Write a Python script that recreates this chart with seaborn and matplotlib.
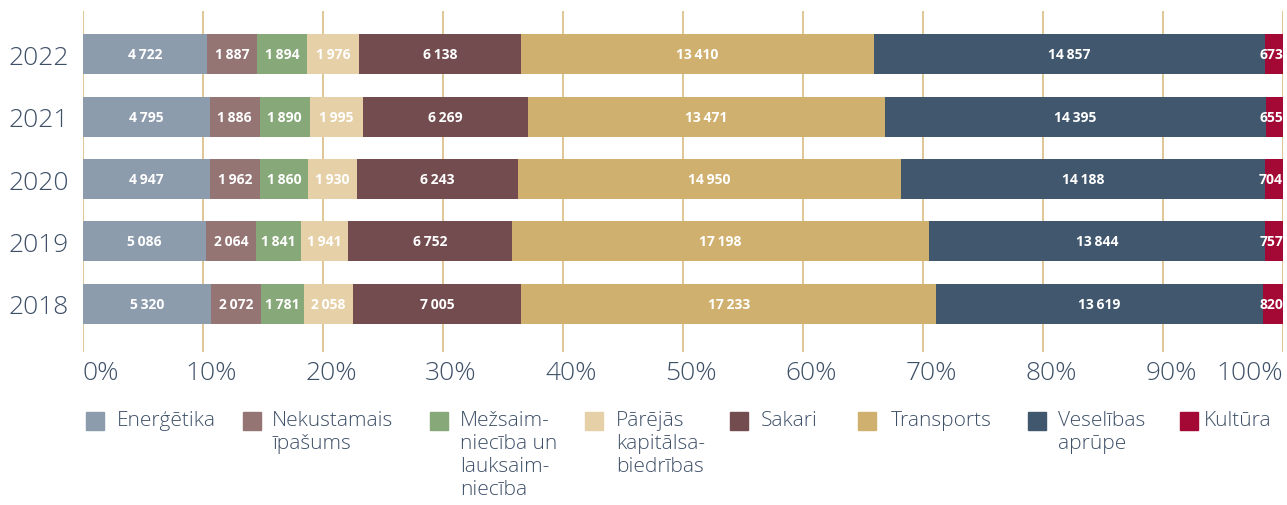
import numpy as np
import pandas as pd
import matplotlib
matplotlib.use("Agg")
import matplotlib.pyplot as plt
from matplotlib.patches import Rectangle
import matplotlib.transforms as mtrans
import seaborn as sns

# ---- data ----
years = ["2022", "2021", "2020", "2019", "2018"]
categories = ["Enerģētika", "Nekustamais īpašums", "Mežsaimniecība un lauksaimniecība",
              "Pārējās kapitālsabiedrības", "Sakari", "Transports", "Veselības aprūpe", "Kultūra"]
legend_labels = ["Enerģētika", "Nekustamais\nīpašums", "Mežsaim-\nniecība un\nlauksaim-\nniecība",
                 "Pārējās\nkapitālsa-\nbiedrības", "Sakari", "Transports", "Veselības\naprūpe", "Kultūra"]
energetika = [4722, 4795, 4947, 5086, 5320]
nekustamais = [1887, 1886, 1962, 2064, 2072]
mezsaimnieciba = [1894, 1890, 1860, 1841, 1781]
parejas = [1976, 1995, 1930, 1941, 2058]
sakari = [6138, 6269, 6243, 6752, 7005]
transports = [13410, 13471, 14950, 17198, 17233]
veselibas = [14857, 14395, 14188, 13844, 13619]
kultura = [673, 655, 704, 757, 820]
colors = ["#8d9cad", "#957474", "#87a878", "#e6d0a8", "#734c50", "#cfb06e", "#41576e", "#a30934"]
xticks = [0, 10, 20, 30, 40, 50, 60, 70, 80, 90, 100]

series = [energetika, nekustamais, mezsaimnieciba, parejas, sakari, transports, veselibas, kultura]
vals = np.array(series, dtype=float)          # shape (cat, year)
totals = vals.sum(axis=0)
pct = vals / totals * 100
cum = np.cumsum(pct, axis=0)
left = cum - pct

text_col = "#3e5068"
grid_col = "#d8bd84"

sns.set_theme(style="white")
plt.rcParams["font.family"] = ["Open Sans", "DejaVu Sans"]

W, H = 1287, 506
fig = plt.figure(figsize=(W / 100, H / 100), dpi=100)
ax = fig.add_axes([83 / W, 1 - 353 / H, 1200 / W, (353 - 12) / H])

# Draw cumulative bars, longest first, so each category shows as a segment
for i in range(len(categories) - 1, -1, -1):
    df = pd.DataFrame({"year": years, "cum": cum[i]})
    sns.barplot(data=df, x="cum", y="year", order=years, orient="h",
                color=colors[i], saturation=1, width=0.645, ax=ax, errorbar=None,
                linewidth=0, edgecolor="none")

# value labels
last = len(categories) - 1
for i in range(len(categories)):
    for j, y in enumerate(years):
        txt = f"{int(vals[i, j]):,}".replace(",", "\u2009")
        if i == last:
            ax.text(cum[i, j], j, txt, ha="right", va="center", color="white",
                    fontsize=10, fontweight="bold")
        else:
            xc = left[i, j] + pct[i, j] / 2
            ax.text(xc, j, txt, ha="center", va="center", color="white",
                    fontsize=10, fontweight="bold")

ax.set_xlim(0, 100)
ax.set_ylim(4.774, -0.694)
ax.set_xticks(xticks)
ax.set_xticklabels([f"{t}%" for t in xticks])
ax.xaxis.grid(True, color=grid_col, linewidth=1.2)
ax.yaxis.grid(False)
ax.set_axisbelow(True)
for s in ax.spines.values():
    s.set_visible(False)
ax.set_xlabel("")
ax.set_ylabel("")
ax.tick_params(axis="x", length=0, pad=6, labelsize=19, labelcolor=text_col)
ax.tick_params(axis="y", length=0, pad=10, labelsize=19, labelcolor=text_col)
for lab in ax.get_xticklabels() + ax.get_yticklabels():
    lab.set_fontweight("light")

xlabs = ax.get_xticklabels()
xlabs[0].set_horizontalalignment("left")
xlabs[-1].set_horizontalalignment("right")
shift = mtrans.ScaledTranslation(8 / 100, 0, fig.dpi_scale_trans)
for lab in xlabs[1:-1]:
    lab.set_transform(lab.get_transform() + shift)

# legend (manual, first line aligned with square)
leg_sq_x = [86, 243, 430, 585, 730, 858, 1028, 1180]
leg_tx_x = [117, 272, 460, 616, 761, 891, 1058, 1204]
for k in range(len(categories)):
    fig.patches.append(Rectangle((leg_sq_x[k] / W, 1 - 431 / H), 18 / W, 18 / H,
                                 transform=fig.transFigure, color=colors[k]))
    fig.text(leg_tx_x[k] / W, 1 - 411 / H, legend_labels[k], ha="left", va="top",
             fontsize=15, color=text_col, fontweight="light", linespacing=1.2)

fig.savefig("out.png", dpi=100)
